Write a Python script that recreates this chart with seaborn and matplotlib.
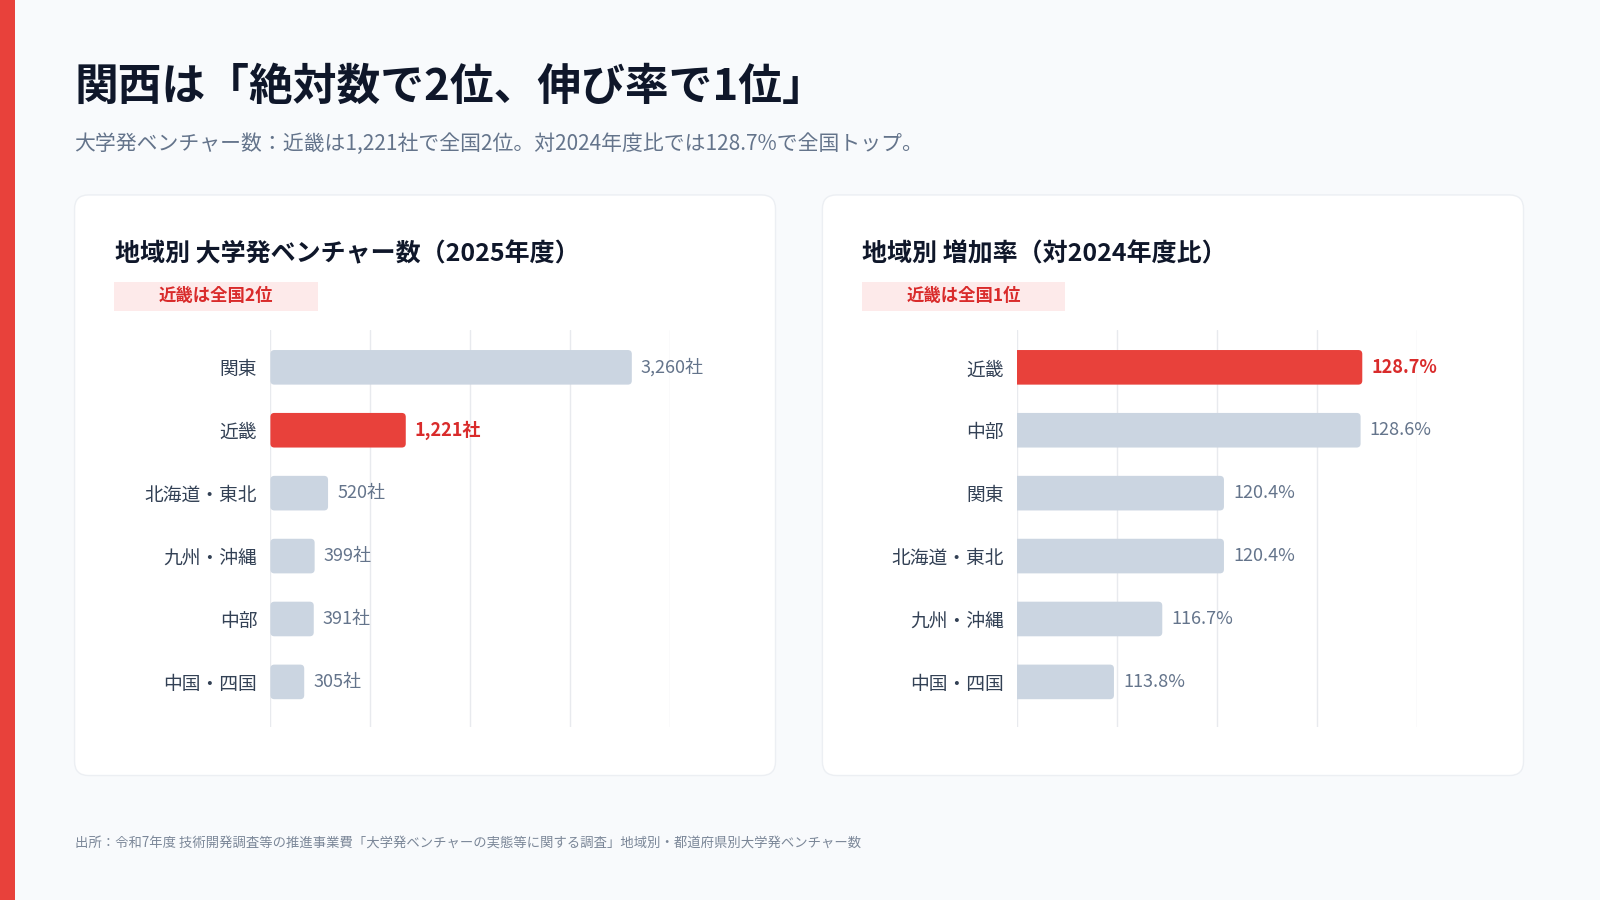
import matplotlib
matplotlib.use("Agg")
import matplotlib.pyplot as plt
import matplotlib.transforms as mtransforms
from matplotlib.patches import FancyBboxPatch, Rectangle
import seaborn as sns
import pandas as pd
import numpy as np

# ---- data ----
left_regions = ["関東", "近畿", "北海道・東北", "九州・沖縄", "中部", "中国・四国"]
left_values = [3260, 1221, 520, 399, 391, 305]
left_labels = ["3,260社", "1,221社", "520社", "399社", "391社", "305社"]
left_xlim = (0, 3608)

right_regions = ["近畿", "中部", "関東", "北海道・東北", "九州・沖縄", "中国・四国"]
right_values = [128.7, 128.6, 120.4, 120.4, 116.7, 113.8]
right_labels = ["128.7%", "128.6%", "120.4%", "120.4%", "116.7%", "113.8%"]
right_xlim = (108, 132)

highlight = "近畿"

title = "関西は「絶対数で2位、伸び率で1位」"
subtitle = "大学発ベンチャー数：近畿は1,221社で全国2位。対2024年度比では128.7%で全国トップ。"
left_title = "地域別 大学発ベンチャー数（2025年度）"
right_title = "地域別 増加率（対2024年度比）"
left_badge = "近畿は全国2位"
right_badge = "近畿は全国1位"
footer = "出所：令和7年度 技術開発調査等の推進事業費「大学発ベンチャーの実態等に関する調査」地域別・都道府県別大学発ベンチャー数"

# ---- style ----
RED = "#e8413b"
RED_TXT = "#d92b2b"
GREY_BAR = "#cbd5e1"
BG = "#f8fafc"

sns.set_theme(style="white")
plt.rcParams['font.family'] = ['Noto Sans CJK JP', 'DejaVu Sans']

W, H = 1600, 900
fig = plt.figure(figsize=(16, 9), dpi=100)
fig.patch.set_facecolor(BG)

# left accent strip
fig.add_artist(Rectangle((0, 0), 0.0096, 1, transform=fig.transFigure,
                         facecolor=RED, edgecolor='none', zorder=0.1))

# titles
fig.text(0.0466, 0.903, title, fontsize=31.5, fontweight='bold', color='#0f172a',
         va='center', ha='left')
fig.text(0.0466, 0.840, subtitle, fontsize=15, color='#64748b',
         va='center', ha='left')
fig.text(0.0466, 0.0625, footer, fontsize=9.6, color='#7b8798',
         va='center', ha='left')

# cards
def card(x0, x1, y0, y1):
    r = 14 / W
    p = FancyBboxPatch((x0, y0), x1 - x0, y1 - y0,
                       boxstyle=f"round,pad=0,rounding_size={r}",
                       mutation_aspect=W / H, transform=fig.transFigure,
                       facecolor='white', edgecolor='#eceff3', lw=1, zorder=0.1)
    fig.add_artist(p)

card(0.0466, 0.4847, 0.1383, 0.7834)
card(0.5140, 0.9522, 0.1383, 0.7834)


def panel(ax, regions, values, labels, xlim, ptitle, badge, tx, bx0, bx1):
    df = pd.DataFrame({"region": regions, "value": values})
    palette = {r: (RED if r == highlight else GREY_BAR) for r in regions}
    sns.barplot(data=df, y="region", x="value", hue="region", palette=palette,
                orient="h", width=0.55, legend=False, ax=ax, saturation=1)
    ax.set_xlim(*xlim)
    ax.set_ylim(len(regions) - 1 + 0.71, -0.6)
    ax.set_facecolor('none')
    for s in ax.spines.values():
        s.set_visible(False)
    ax.set_xticks(np.linspace(xlim[0], xlim[1], 5))
    ax.set_xticklabels([])
    ax.grid(axis='x', color='#e8eaee', lw=1)
    ax.grid(axis='y', visible=False)
    ax.set_axisbelow(True)
    ax.set_xlabel("")
    ax.set_ylabel("")
    ax.tick_params(axis='x', length=0)
    ax.tick_params(axis='y', length=0, pad=9.5, labelsize=13.5, labelcolor='#334155')

    # rounded bars
    fig.canvas.draw()
    t = ax.transData
    px_x = abs(t.transform((1, 0))[0] - t.transform((0, 0))[0])
    px_y = abs(t.transform((0, 1))[1] - t.transform((0, 0))[1])
    rad_px = 4
    for p in list(ax.patches):
        x, y = p.get_x(), p.get_y()
        w, h = p.get_width(), p.get_height()
        fc = p.get_facecolor()
        p.remove()
        fb = FancyBboxPatch((x, y), w, h,
                            boxstyle=f"round,pad=0,rounding_size={rad_px / px_x}",
                            mutation_aspect=px_x / px_y,
                            facecolor=fc, edgecolor='none', zorder=2)
        ax.add_patch(fb)

    off = mtransforms.offset_copy(ax.transData, fig=fig, x=9, y=0, units='dots')
    for i, (r, v, lab) in enumerate(zip(regions, values, labels)):
        hl = r == highlight
        ax.text(v, i, lab, transform=off, va='center', ha='left', fontsize=13,
                color=RED_TXT if hl else '#64748b',
                fontweight='bold' if hl else 'normal', clip_on=False)

    fig.text(tx, 0.717, ptitle, fontsize=18, fontweight='bold',
             color='#0f172a', va='center', ha='left', zorder=2)
    fig.add_artist(Rectangle((bx0, 0.655), bx1 - bx0, 0.032,
                             transform=fig.transFigure, facecolor='#fdeaea',
                             edgecolor='none', zorder=1))
    fig.text((bx0 + bx1) / 2, 0.671, badge, fontsize=12.5, fontweight='bold',
             color=RED_TXT, va='center', ha='center', zorder=2)


ax1 = fig.add_axes([0.1690, 0.1927, 0.2500, 0.4411])
ax2 = fig.add_axes([0.6358, 0.1927, 0.2500, 0.4411])
ax1.set_zorder(1)
ax2.set_zorder(1)

panel(ax1, left_regions, left_values, left_labels, left_xlim,
      left_title, left_badge, 0.0721, 0.0714, 0.1990)
panel(ax2, right_regions, right_values, right_labels, right_xlim,
      right_title, right_badge, 0.5389, 0.5389, 0.6658)

fig.savefig("out.png", dpi=100, facecolor=BG)
